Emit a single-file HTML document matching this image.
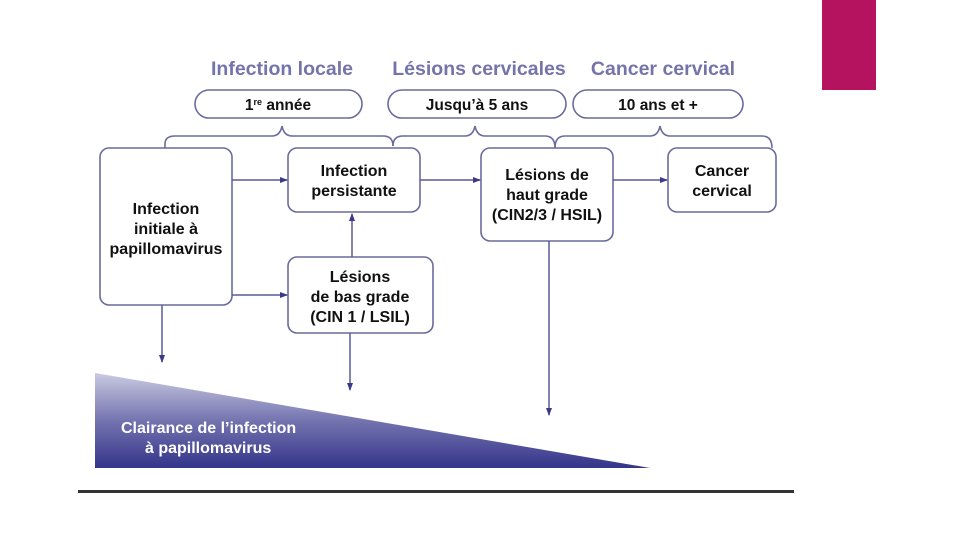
<!DOCTYPE html>
<html><head><meta charset="utf-8"><style>
html,body{margin:0;padding:0;background:#fff;width:960px;height:540px;overflow:hidden}
svg{display:block}
text{font-family:"Liberation Sans",sans-serif;font-weight:bold}
</style></head><body>
<svg width="960" height="540" viewBox="0 0 960 540">
<defs>
<linearGradient id="g" x1="0" y1="0" x2="0" y2="1">
<stop offset="0" stop-color="#cacae2"/><stop offset="0.5" stop-color="#7474b0"/><stop offset="1" stop-color="#34348a"/>
</linearGradient>
<marker id="a" markerWidth="8" markerHeight="8" refX="7" refY="4" orient="auto" markerUnits="userSpaceOnUse">
<path d="M0,1 L8,4 L0,7 Z" fill="#3a3a88"/></marker>
</defs>
<rect x="822" y="0" width="54" height="90" fill="#b5135f"/>
<g fill="#7474aa" font-size="19.5" text-anchor="middle">
<text x="282" y="75">Infection locale</text>
<text x="479" y="75">Lésions cervicales</text>
<text x="663" y="75">Cancer cervical</text>
</g>
<g fill="none" stroke="#6a6a9c" stroke-width="1.6">
<rect x="195" y="90" width="167" height="28" rx="14"/>
<rect x="388" y="90" width="178" height="28" rx="14"/>
<rect x="573" y="90" width="170" height="28" rx="14"/>
<path d="M165,148 V144 Q165,136 175,136 H272 Q280,136 282,126 Q284,136 292,136 H383 Q393,136 393,146"/>
<path d="M393,146 Q393,136 403,136 H465 Q473,136 475,126 Q477,136 485,136 H545 Q555,136 555,148"/>
<path d="M555,148 Q555,136 565,136 H650 Q658,136 660,126 Q662,136 670,136 H762 Q772,136 772,148"/>
<rect x="100" y="148" width="132" height="157" rx="9"/>
<rect x="288" y="148" width="132" height="64" rx="9"/>
<rect x="481" y="148" width="132" height="93" rx="9"/>
<rect x="668" y="148" width="108" height="64" rx="9"/>
<rect x="288" y="257" width="145" height="76" rx="9"/>
</g>
<g stroke="#5a5a98" stroke-width="1.5" marker-end="url(#a)">
<line x1="232" y1="180" x2="287" y2="180"/>
<line x1="420" y1="180" x2="480" y2="180"/>
<line x1="613" y1="180" x2="667" y2="180"/>
<line x1="232" y1="295" x2="287" y2="295"/>
<line x1="352" y1="257" x2="352" y2="214"/>
<line x1="162" y1="305" x2="162" y2="362"/>
<line x1="350" y1="333" x2="350" y2="390"/>
<line x1="549" y1="241" x2="549" y2="415"/>
</g>
<g fill="#111" font-size="16" text-anchor="middle">
<text x="278" y="110" font-size="15.5">1<tspan font-size="9" dy="-5">re</tspan><tspan dy="5"> année</tspan></text>
<text x="477" y="110" font-size="15.5">Jusqu’à 5 ans</text>
<text x="658" y="110" font-size="15.5">10 ans et +</text>
<text x="166" y="214">Infection</text>
<text x="166" y="234">initiale à</text>
<text x="166" y="254">papillomavirus</text>
<text x="354" y="176">Infection</text>
<text x="354" y="196">persistante</text>
<text x="547" y="180">Lésions de</text>
<text x="547" y="200">haut grade</text>
<text x="547" y="220">(CIN2/3 / HSIL)</text>
<text x="722" y="176">Cancer</text>
<text x="722" y="196">cervical</text>
<text x="360" y="282">Lésions</text>
<text x="360" y="302">de bas grade</text>
<text x="360" y="322">(CIN 1 / LSIL)</text>
</g>
<polygon points="95,373 650,468 95,468" fill="url(#g)"/>
<g fill="#fff" font-size="16">
<text x="121" y="433">Clairance de l’infection</text>
<text x="145" y="453">à papillomavirus</text>
</g>
<rect x="78" y="490" width="716" height="3" fill="#333"/>
</svg>
</body></html>
